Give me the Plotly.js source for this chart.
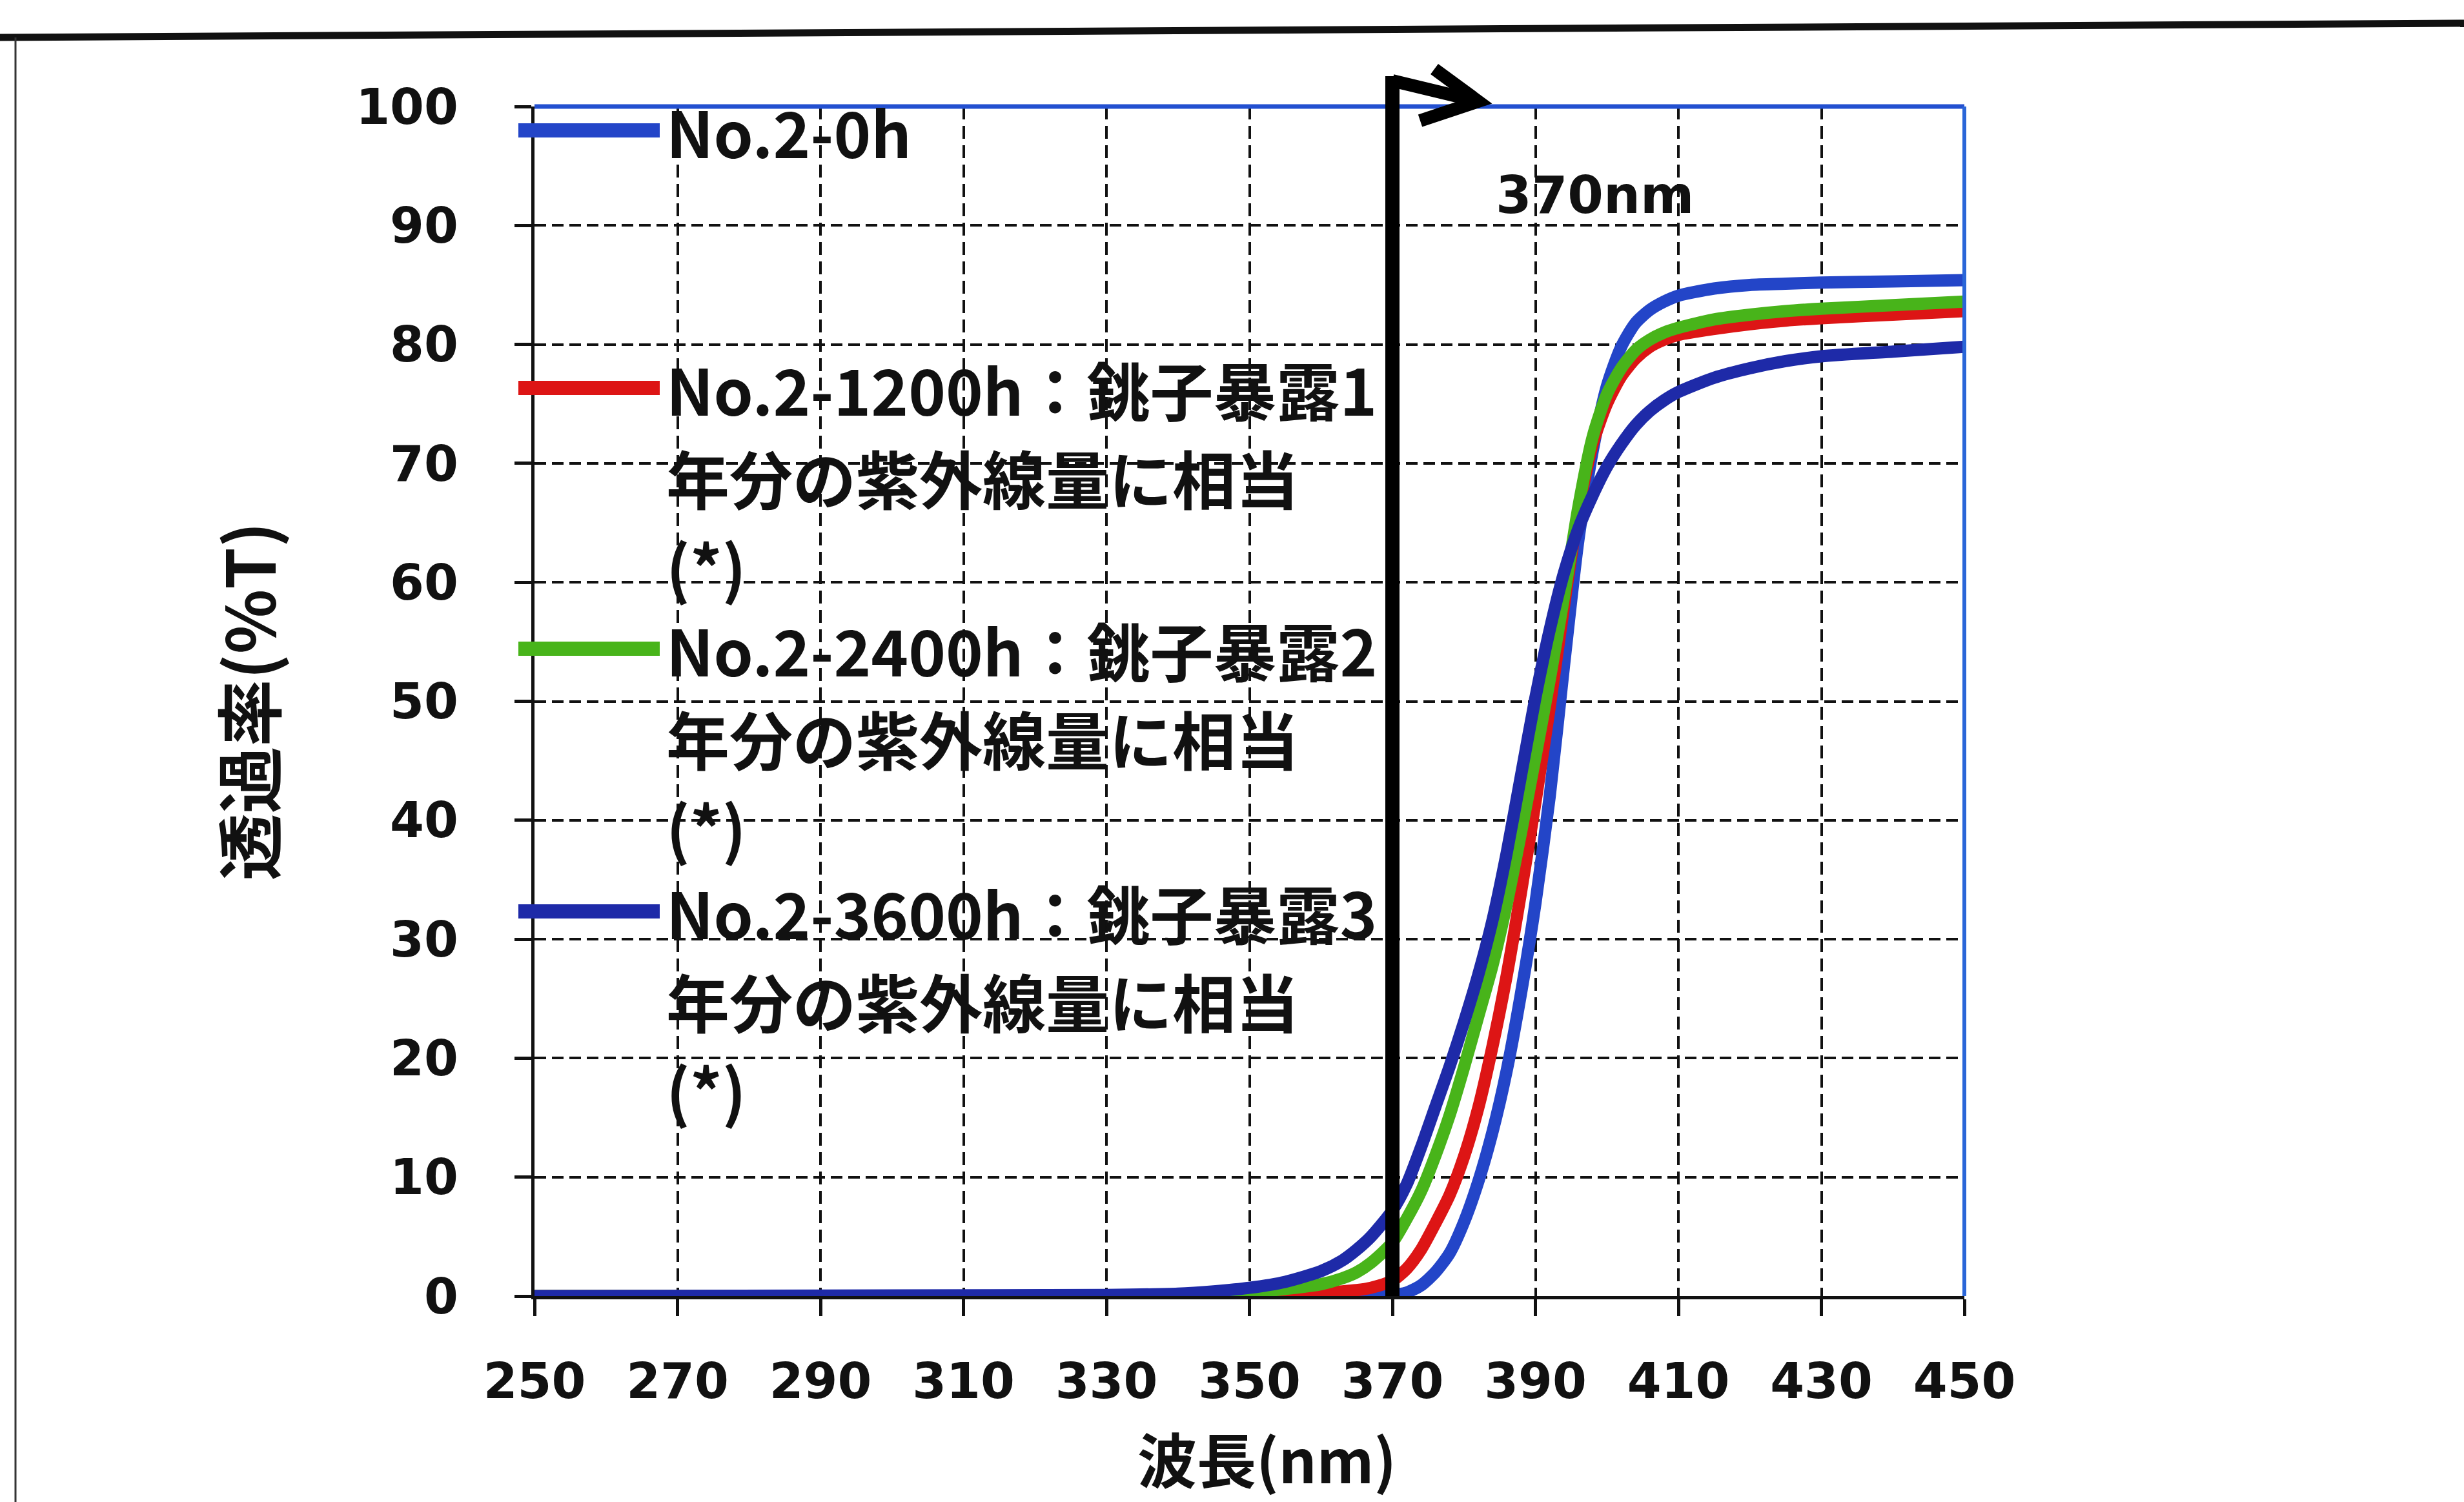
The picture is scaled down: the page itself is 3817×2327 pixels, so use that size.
<!DOCTYPE html>
<html>
<head>
<meta charset="utf-8">
<script src="https://cdn.plot.ly/plotly-3.0.1.min.js"></script>
<style>
  html, body { margin: 0; padding: 0; background: #ffffff; }
  #chart { width: 3817px; height: 2327px; }
</style>
</head>
<body>
<div id="chart"></div>
<script>
// ---------------- data ----------------
const wavelengths = [250, 300, 330, 340, 345, 350, 355, 360, 363, 365, 367, 370, 372, 374, 376, 378, 380, 382, 384, 386, 388, 390, 392, 394, 396, 398, 400, 402, 404, 406, 408, 410, 415, 420, 425, 430, 440, 450];

const t0h    = [0, 0, 0, 0, 0, 0, 0, 0, 0.02, 0.04, 0.07, 0.1, 0.3, 0.9, 2.0, 3.6, 6.2, 9.6, 13.8, 19, 25.5, 33, 42, 53, 63.5, 71, 76.5, 79.8, 81.8, 82.9, 83.6, 84.1, 84.7, 85.0, 85.1, 85.2, 85.3, 85.4];
const t1200h = [0, 0, 0, 0.05, 0.1, 0.1, 0.2, 0.3, 0.4, 0.5, 0.7, 1.3, 2.3, 3.9, 6.1, 8.5, 11.7, 15.8, 21, 27, 34, 41.5, 49.5, 58, 66, 71.6, 75, 77.3, 78.8, 79.8, 80.4, 80.8, 81.3, 81.7, 82.0, 82.2, 82.5, 82.8];
const t2400h = [0, 0, 0.05, 0.1, 0.2, 0.3, 0.6, 1.0, 1.5, 2.0, 2.8, 4.5, 6.5, 8.8, 11.8, 15.2, 19.2, 23.5, 27.8, 33, 39, 45.3, 51.8, 58.8, 66.3, 72.2, 75.8, 78, 79.5, 80.4, 81, 81.4, 82.1, 82.5, 82.8, 83.0, 83.3, 83.6];
const t3600h = [0, 0.05, 0.1, 0.2, 0.4, 0.7, 1.2, 2.1, 3.0, 3.9, 5.0, 7.2, 9.4, 12.5, 15.9, 19.3, 23, 27, 31.6, 37.3, 43.8, 50.3, 56, 60.8, 64.5, 67.3, 69.7, 71.6, 73.2, 74.4, 75.3, 76, 77.2, 78, 78.6, 79, 79.4, 79.8];

const seriesNames = [
  "No.2-0h",
  "No.2-1200h：銚子暴露1年分の紫外線量に相当(*)",
  "No.2-2400h：銚子暴露2年分の紫外線量に相当(*)",
  "No.2-3600h：銚子暴露3年分の紫外線量に相当(*)"
];
const legendLines = [
  ["No.2-0h"],
  ["No.2-1200h：銚子暴露1", "年分の紫外線量に相当", "(*)"],
  ["No.2-2400h：銚子暴露2", "年分の紫外線量に相当", "(*)"],
  ["No.2-3600h：銚子暴露3", "年分の紫外線量に相当", "(*)"]
];
const xTicks = [250, 270, 290, 310, 330, 350, 370, 390, 410, 430, 450];
const yTicks = [0, 10, 20, 30, 40, 50, 60, 70, 80, 90, 100];
const xTitle = "波長(nm)";
const yTitle = "透過率(%T)";
const markerWavelength = 370;
const markerLabel = "370nm";

// ---------------- styles ----------------
const seriesValues = [t0h, t1200h, t2400h, t3600h];
const colors = ["#2345c8", "#dd1515", "#48b41a", "#1e2aa8"];
const W = 3817, H = 2327;
const M = {l: 828, r: 774, t: 165, b: 319};
const PW = W - M.l - M.r, PH = H - M.t - M.b;
const px = v => (v - M.l) / PW;           // page pixel -> paper x
const py = v => (H - M.b - v) / PH;       // page pixel -> paper y
const xr = [250, 450];
const xPaper = v => (v - xr[0]) / (xr[1] - xr[0]);

const traces = seriesValues.map((vals, i) => ({
  type: 'scatter',
  mode: 'lines',
  name: seriesNames[i],
  x: wavelengths,
  y: vals,
  line: {color: colors[i], width: 19, shape: 'spline', smoothing: 0.7},
  showlegend: false,
  hoverinfo: 'x+y+name'
}));

const shapes = [];
const annotations = [];

// plot border (top and right in blue)
shapes.push({type: 'line', xref: 'paper', yref: 'paper', x0: 0, x1: 1, y0: 1, y1: 1, line: {color: '#2350d0', width: 7}});
shapes.push({type: 'line', xref: 'paper', yref: 'paper', x0: 1, x1: 1, y0: 0, y1: 1, line: {color: '#2a66d8', width: 6}});

// legend drawn inside the plot
const entryY = [202, 601, 1005, 1412];
const lineGap = 137;
legendLines.forEach((lines, i) => {
  shapes.push({type: 'line', xref: 'paper', yref: 'paper',
    x0: px(803), x1: px(1022), y0: py(entryY[i]), y1: py(entryY[i]),
    line: {color: colors[i], width: 22}});
  lines.forEach((txt, j) => {
    annotations.push({xref: 'paper', yref: 'paper', x: px(1030), y: py(entryY[i] + j * lineGap),
      xanchor: 'left', yanchor: 'middle', showarrow: false, text: txt,
      font: {family: 'Noto Sans CJK JP', size: 98, color: '#111111', weight: 700}});
  });
});

// 370 nm marker arrow
shapes.push({type: 'line', xref: 'paper', yref: 'paper', x0: xPaper(markerWavelength), x1: xPaper(markerWavelength),
  y0: 0, y1: py(118), line: {color: '#000000', width: 22}});
shapes.push({type: 'path', xref: 'paper', yref: 'paper',
  path: `M ${xPaper(markerWavelength)} ${py(125)} L ${px(2290)} ${py(157)}`,
  line: {color: '#000000', width: 20}});
shapes.push({type: 'path', xref: 'paper', yref: 'paper',
  path: `M ${px(2222)} ${py(107)} L ${px(2290)} ${py(157)} L ${px(2200)} ${py(187)}`,
  line: {color: '#000000', width: 20}});
annotations.push({xref: 'paper', yref: 'paper', x: px(2470), y: py(302), showarrow: false,
  text: markerLabel, xanchor: 'center', yanchor: 'middle',
  font: {family: 'DejaVu Sans', size: 80, color: '#111111', weight: 700}});

// x-axis title, kept just inside the bottom edge of the page
const titleFont = {family: 'Noto Sans CJK JP', size: 104, color: '#111111', weight: 700};
annotations.push({xref: 'paper', yref: 'paper', x: px(1962), y: py(2326), showarrow: false,
  text: xTitle, xanchor: 'center', yanchor: 'bottom',
  font: {family: 'Noto Sans CJK JP', size: 92, color: '#111111', weight: 700}});

// scanned page frame
shapes.push({type: 'line', xref: 'paper', yref: 'paper', x0: px(0), x1: px(3817), y0: py(58), y1: py(36), line: {color: '#111111', width: 11}});
shapes.push({type: 'line', xref: 'paper', yref: 'paper', x0: px(24), x1: px(24), y0: py(58), y1: py(2327), line: {color: '#333333', width: 3}});

const tickFont = {family: 'DejaVu Sans', size: 76, color: '#111111', weight: 700};

const layout = {
  width: W, height: H,
  margin: M,
  paper_bgcolor: '#ffffff',
  plot_bgcolor: '#ffffff',
  showlegend: false,
  xaxis: {
    range: xr, tickvals: xTicks, ticktext: xTicks.map(String),
    showline: true, linecolor: '#111111', linewidth: 5,
    ticks: 'outside', ticklen: 26, tickwidth: 5, tickcolor: '#111111',
    showgrid: true, gridcolor: '#111111', gridwidth: 4, griddash: '20px,10px',
    zeroline: false, tickfont: tickFont, ticklabelstandoff: 36
  },
  yaxis: {
    range: [0, 100], tickvals: yTicks, ticktext: yTicks.map(String),
    showline: true, linecolor: '#111111', linewidth: 5,
    ticks: 'outside', ticklen: 26, tickwidth: 5, tickcolor: '#111111',
    showgrid: true, gridcolor: '#111111', gridwidth: 4, griddash: '18px,9px',
    zeroline: false, tickfont: tickFont, ticklabelstandoff: 72,
    title: {text: yTitle, font: titleFont, standoff: 90}
  },
  shapes: shapes,
  annotations: annotations
};

Plotly.newPlot('chart', traces, layout, {displayModeBar: false, staticPlot: true});
</script>
</body>
</html>
